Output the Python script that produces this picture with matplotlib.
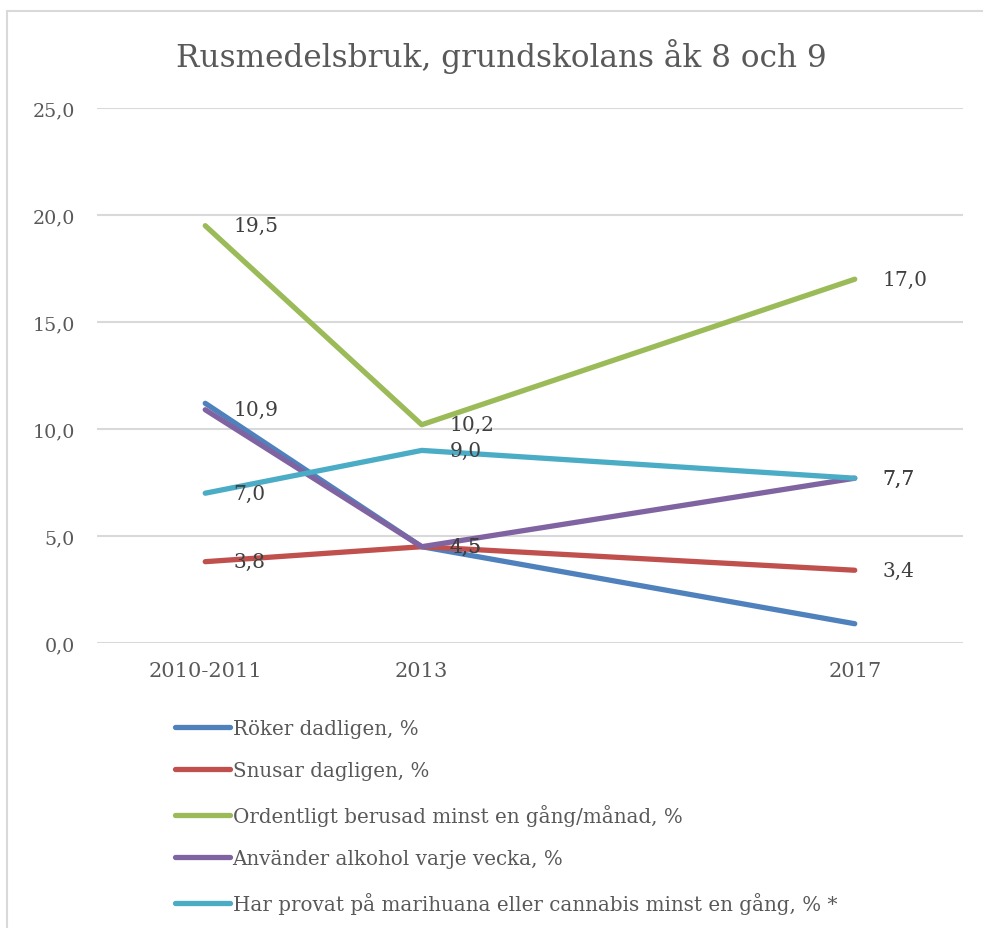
import matplotlib.pyplot as plt
import matplotlib.patches as patches

# data ------------------------------------------------------------
years = [2011, 2013, 2017]
year_labels = ['2010-2011', '2013', '2017']

roker = [11.2, 4.5, 0.9]
snusar = [3.8, 4.5, 3.4]
berusad = [19.5, 10.2, 17.0]
alkohol = [10.9, 4.5, 7.7]
cannabis = [7.0, 9.0, 7.7]

names = ['Röker dadligen, %',
         'Snusar dagligen, %',
         'Ordentligt berusad minst en gång/månad, %',
         'Använder alkohol varje vecka, %',
         'Har provat på marihuana eller cannabis minst en gång, % *']
series = [roker, snusar, berusad, alkohol, cannabis]
colors = ['#4F81BD', '#C0504D', '#9BBB59', '#8064A2', '#4BACC6']
show_labels = [False, True, True, True, True]

yticks = [0, 5, 10, 15, 20, 25]

plt.rcParams['font.family'] = 'DejaVu Serif'

# figure ----------------------------------------------------------
W, H = 983, 929
fig = plt.figure(figsize=(W / 100, H / 100), dpi=100)
ax = fig.add_axes([97 / W, 1 - 644 / H, (963 - 97) / W, (644 - 109) / H])

# chart frame
fig.patches.append(patches.Rectangle((7 / W, -0.05), 1.1, 1 - 12 / H + 0.05,
                                     transform=fig.transFigure, fill=False,
                                     edgecolor='#D9D9D9', linewidth=1.5))

for vals, c, name in zip(series, colors, names):
    ax.plot(years, vals, color=c, linewidth=3.8, solid_capstyle='round',
            label=name, zorder=3)

for vals, show in zip(series, show_labels):
    if not show:
        continue
    for x, v in zip(years, vals):
        ax.annotate(f'{v:.1f}'.replace('.', ','), xy=(x, v), xytext=(20, 0),
                    textcoords='offset points', va='center', ha='left',
                    fontsize=14.5, color='#404040', zorder=4)

ax.set_xlim(2010, 2018)
ax.set_ylim(0, 25)
ax.set_yticks(yticks)
ax.set_yticklabels([f'{t:.1f}'.replace('.', ',') for t in yticks])
ax.set_xticks(years)
ax.set_xticklabels(year_labels)
ax.tick_params(length=0, labelcolor='#595959')
ax.tick_params(axis='y', pad=16, labelsize=13.7)
ax.tick_params(axis='x', pad=13, labelsize=15)
ax.grid(axis='y', color='#D9D9D9', linewidth=1.5)
ax.set_axisbelow(True)
for s in ax.spines.values():
    s.set_visible(False)

fig.text(501 / W, 1 - 57 / H, 'Rusmedelsbruk, grundskolans åk 8 och 9',
         ha='center', va='center', fontsize=22.4, color='#595959')

fig.legend(loc='upper left', bbox_to_anchor=(175 / W, 1 - 720 / H),
           frameon=False, fontsize=14.3, handlelength=2.75, handletextpad=0.15,
           labelspacing=1.18, borderpad=0, borderaxespad=0,
           labelcolor='#595959')

fig.savefig('out.png', dpi=100)
